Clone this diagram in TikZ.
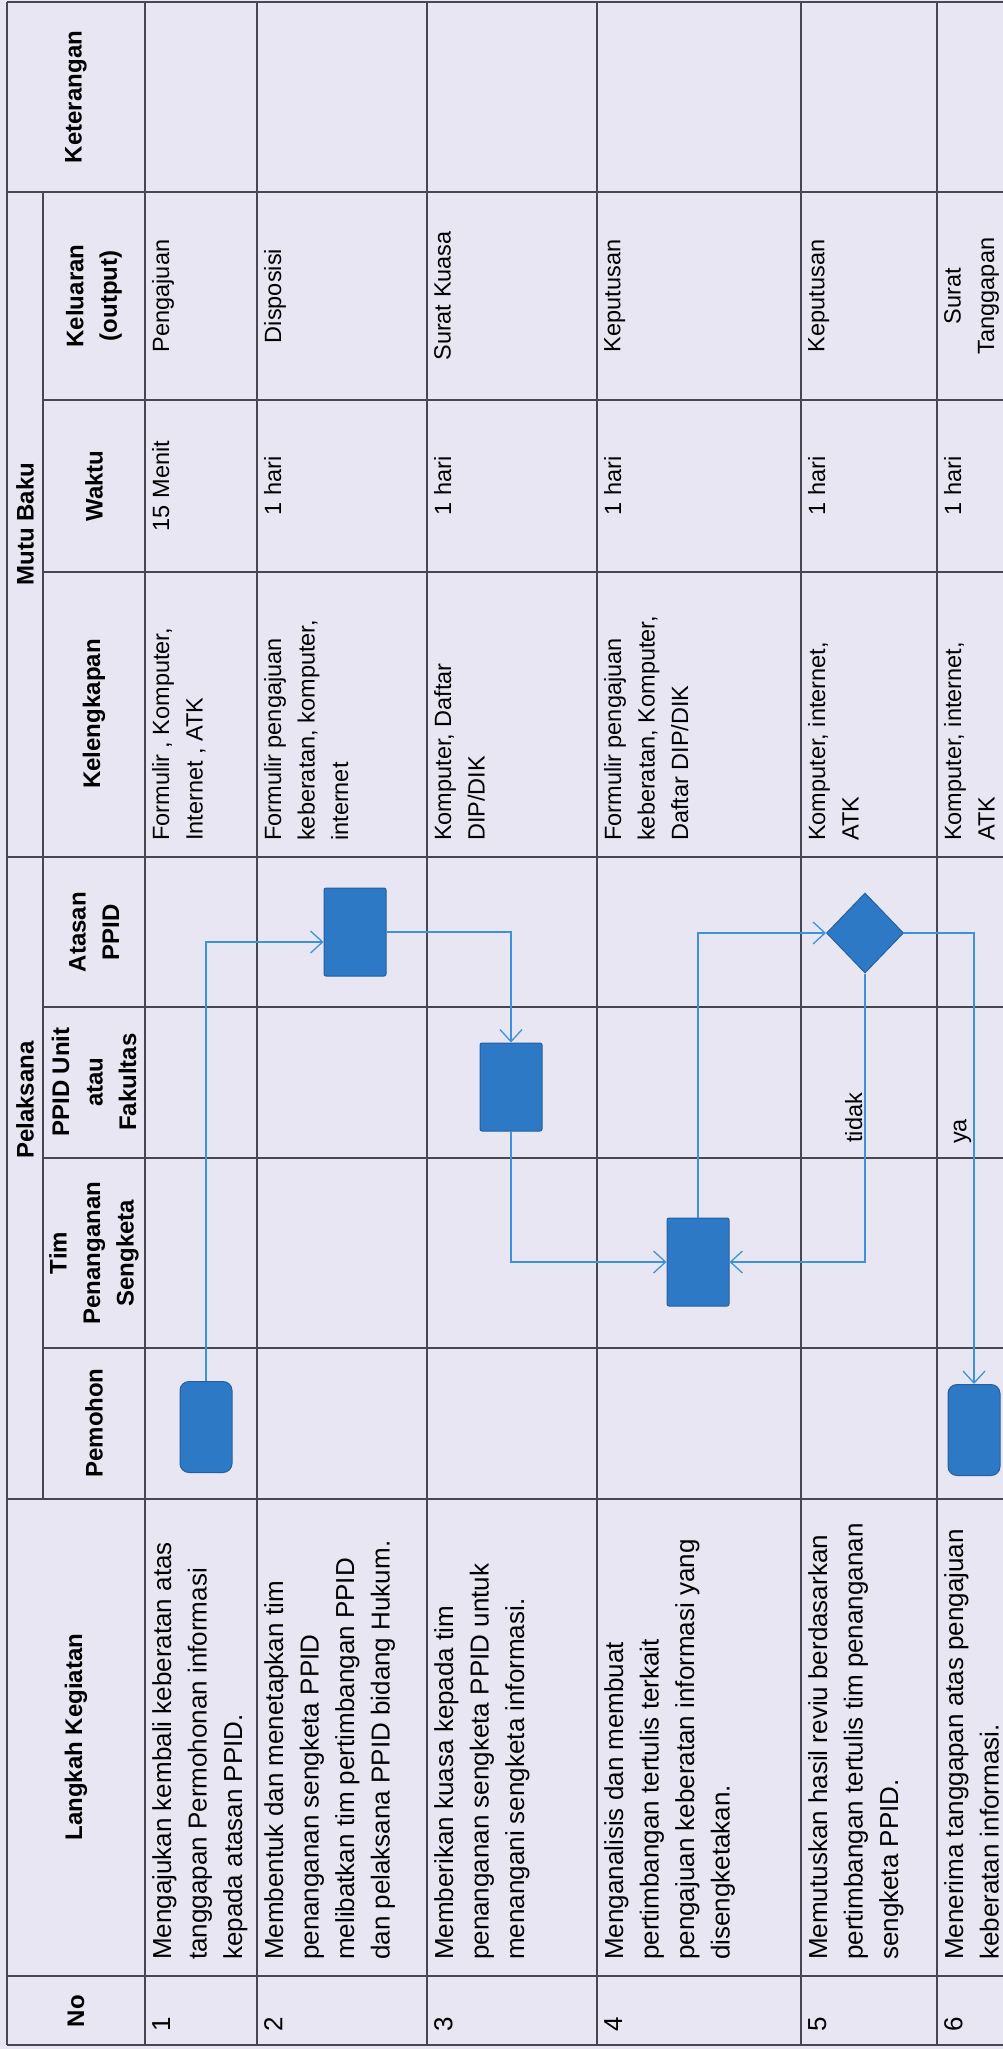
\documentclass[tikz,border=0pt]{standalone}
\usepackage{fontspec}
\setmainfont{Liberation Sans}
\usetikzlibrary{arrows.meta,shapes.geometric}

\definecolor{latar}{RGB}{232,230,243}
\definecolor{garis}{RGB}{72,70,82}
\definecolor{kotak}{RGB}{46,121,197}
\definecolor{tepi}{RGB}{36,96,160}
\definecolor{panah}{RGB}{62,146,220}

\def \fontIsi {\fontsize{23.5}{33.5}\selectfont}
\def \fontLangkah {\fontsize{26}{35.5}\selectfont}
\def \fontJudul {\fontsize{24}{33.5}\selectfont\bfseries}

\begin{document}
\begin{tikzpicture}[x=1pt,y=-1pt,
      tabel/.style={draw=garis,line width=1.5pt},
      judul/.style={rotate=90,align=center,font=\fontJudul,inner sep=0pt},
      langkah/.style={rotate=90,anchor=north west,align=left,font=\fontLangkah,inner sep=0pt},
      isi/.style={rotate=90,anchor=north west,align=left,font=\fontIsi,inner sep=0pt},
      tengah/.style={rotate=90,anchor=north,align=center,font=\fontIsi,inner sep=0pt},
      proses/.style={rectangle,fill=kotak,draw=tepi,line width=1pt,minimum width=62pt,minimum height=88pt,rounded corners=2pt},
      mulai/.style={proses,minimum width=52pt,minimum height=91pt,rounded corners=9pt},
      putusan/.style={diamond,fill=kotak,draw=tepi,line width=1pt,minimum width=77pt,minimum height=80pt,inner sep=0pt},
      alur/.style={draw=panah,line width=1.3pt,-{Straight Barb[length=12pt,width=22pt]}},
      ket/.style={rotate=90,anchor=south,font=\fontIsi,inner sep=2pt}]
   \useasboundingbox (0,0) rectangle (1003,2049);
   \clip (0,0) rectangle (1003,2049);
   \fill[latar] (0,0) rectangle (1003,2049);

   % garis tabel
   \draw[tabel] (7,2) -- (1003,2);
   \draw[tabel] (7,2045) -- (1003,2045);
   \draw[tabel] (7,2) -- (7,2045);
   \draw[tabel] (43,192) -- (43,1499);
   \foreach \r in {145,257,427,597,801,937}
      \draw[tabel] (\r,2) -- (\r,2045);
   \foreach \k in {192,857,1499,1976}
      \draw[tabel] (7,\k) -- (1003,\k);
   \foreach \k in {400,572,1007,1158,1348}
      \draw[tabel] (43,\k) -- (1003,\k);

   % kepala tabel
   \node[judul] (hket) at (76,97) {Keterangan};
   \node[judul] (hmutu) at (25,524) {Mutu Baku};
   \node[judul] (hpel) at (25,1100) {Pelaksana};
   \node[judul] (hkel) at (94,296) {Keluaran\\(output)};
   \node[judul] (hwkt) at (94,486) {Waktu};
   \node[judul] (hlkp) at (94,714) {Kelengkapan};
   \node[judul] (hatas) at (94,932) {Atasan\\PPID};
   \node[judul] (hunit) at (94,1082) {PPID Unit\\atau\\Fakultas};
   \node[judul] (htim) at (94,1253) {Tim\\Penanganan\\Sengketa};
   \node[judul] (hpem) at (94,1423) {Pemohon};
   \node[judul] (hlang) at (76,1737) {Langkah Kegiatan};
   \node[judul] (hno) at (76,2011) {No};

   % isi tabel
   \foreach \r/\t [count=\i] in {152/{Mengajukan kembali keberatan atas\\tanggapan Permohonan informasi\\kepada atasan PPID.},
         264/{Membentuk dan menetapkan tim\\penanganan sengketa PPID\\melibatkan tim pertimbangan PPID\\dan pelaksana PPID bidang Hukum.},
         434/{Memberikan kuasa kepada tim\\penanganan sengketa PPID untuk\\menangani sengketa informasi.},
         604/{Menganalisis dan membuat\\pertimbangan tertulis terkait\\pengajuan keberatan informasi yang\\disengketakan.},
         808/{Memutuskan hasil reviu berdasarkan\\pertimbangan tertulis tim penanganan\\sengketa PPID.},
         944/{Menerima tanggapan atas pengajuan\\keberatan informasi.}}{
      \node[langkah] (no\i) at (\r,2032) {\i};
      \node[langkah] (lk\i) at (\r,1960) {\t};
   }
   \foreach \r/\t [count=\i] in {152/{Formulir , Komputer,\\Internet , ATK},
         264/{Formulir pengajuan\\keberatan, komputer,\\internet},
         434/{Komputer, Daftar\\DIP/DIK},
         604/{Formulir pengajuan\\keberatan, Komputer,\\Daftar DIP/DIK},
         808/{Komputer, internet,\\ATK},
         944/{Komputer, internet,\\ATK}}
      \node[isi] (kl\i) at (\r,841) {\t};
   \foreach \r/\t [count=\i] in {152/{15 Menit},264/{1 hari},434/{1 hari},604/{1 hari},808/{1 hari},944/{1 hari}}
      \node[tengah] (wk\i) at (\r,486) {\t};
   \foreach \r/\t [count=\i] in {152/{Pengajuan},264/{Disposisi},434/{Surat Kuasa},604/{Keputusan},808/{Keputusan},944/{Surat\\Tanggapan}}
      \node[tengah] (kr\i) at (\r,296) {\t};

   % bagan alur
   \node[mulai] (n1) at (206,1427) {};
   \node[proses] (n2) at (355,932) {};
   \node[proses] (n3) at (511,1087) {};
   \node[proses] (n4) at (698,1262) {};
   \node[putusan] (n5) at (865,933) {};
   \node[mulai] (n6) at (974,1430) {};

   \draw[alur] (n1) |- ([yshift=-10pt]n2.west);
   \draw[alur] (n2) -| (n3);
   \draw[alur] (n3) |- (n4);
   \draw[alur] (n4) |- (n5);
   \draw[alur] (n5) |- node[ket,pos=0.25] {tidak} (n4);
   \draw[alur] (n5) -| node[ket,pos=0.72] {ya} (n6);
\end{tikzpicture}
\end{document}
